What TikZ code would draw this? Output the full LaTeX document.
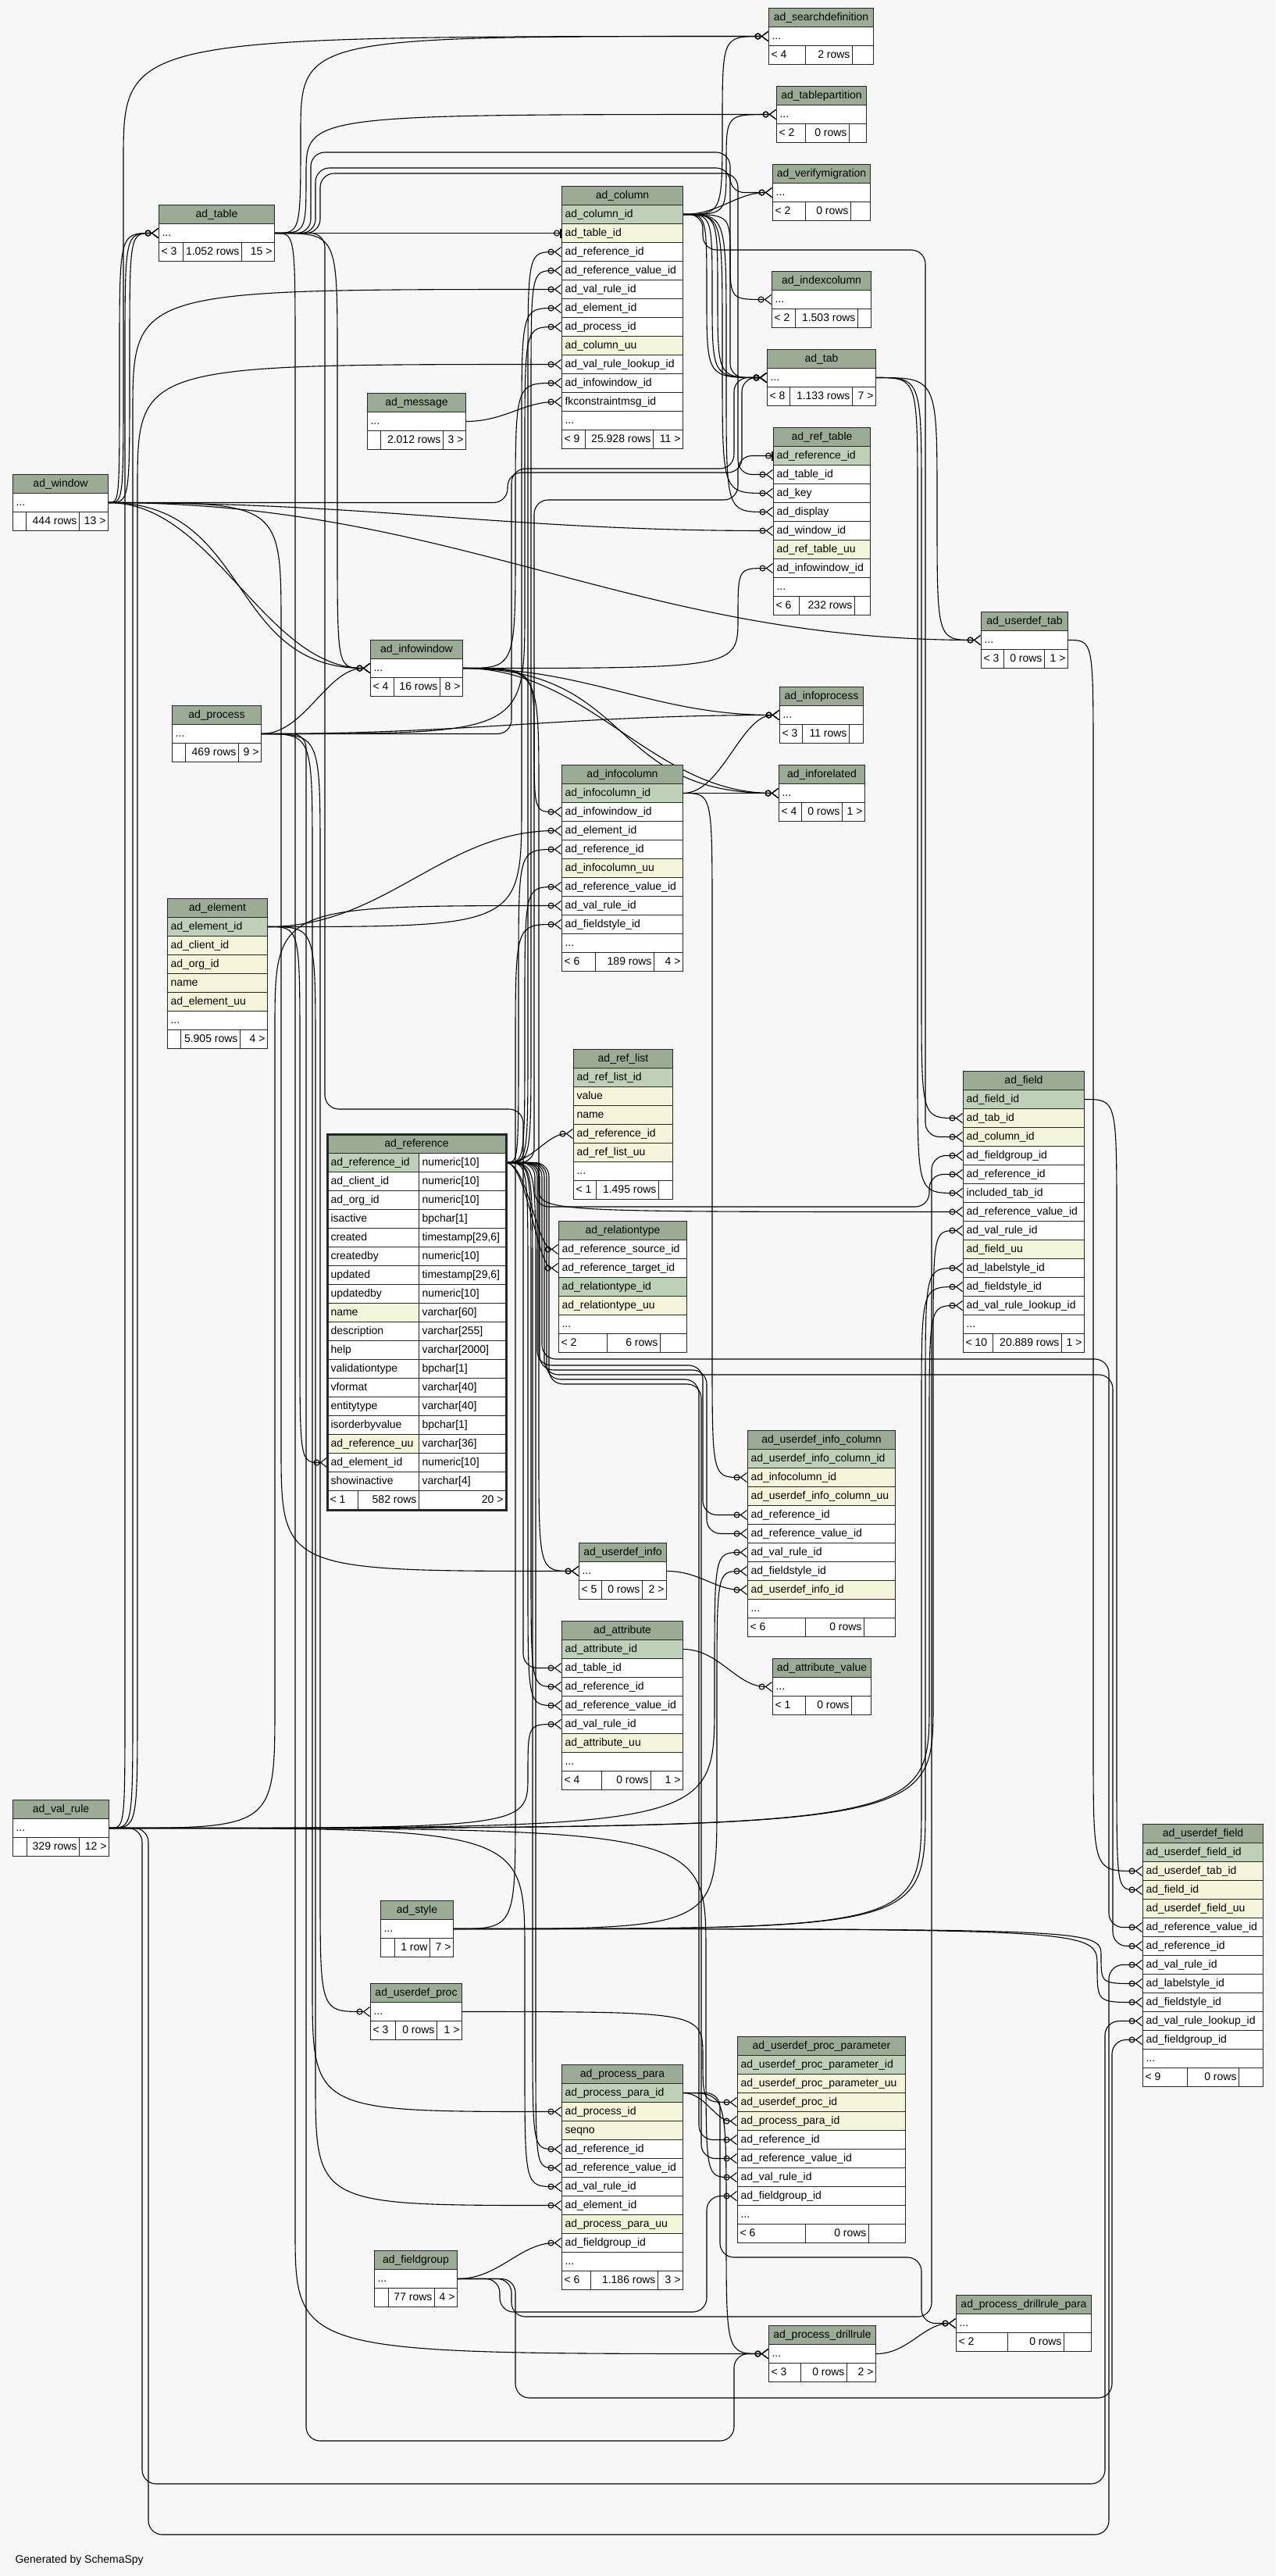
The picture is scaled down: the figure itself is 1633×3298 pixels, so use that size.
\documentclass[tikz,border=0pt]{standalone}
\usepackage{fontspec}
\setmainfont{Liberation Sans}
\usetikzlibrary{arrows.meta,calc,positioning}

\definecolor{paper}{HTML}{F7F7F7}
\definecolor{hd}{HTML}{9BAB96}
\definecolor{pk}{HTML}{BED1B8}
\definecolor{ix}{HTML}{F4F6DC}
\definecolor{rule}{HTML}{262626}

\pgfdeclarelayer{bg}
\pgfdeclarelayer{edges}
\pgfsetlayers{bg,edges,main}

\newcommand{\more}{...}
\newcommand{\erfont}{\fontsize{14pt}{16pt}\selectfont}

\tikzset{
  thead/.style={draw=rule, line width=1pt, fill=hd, anchor=north west,
    minimum height=24pt, inner sep=0pt, text height=10pt, text depth=3pt, font=\erfont},
  tcell/.style={draw=rule, line width=1pt, fill=white, anchor=north west,
    minimum height=24pt, inner xsep=4pt, inner ysep=0pt, text height=10pt, text depth=3pt, font=\erfont},
  fkey/.style={draw=black, line width=1.1pt,
    -{Circle[open,length=8pt,width=8pt] Straight Barb[reversed,length=8pt,width=12pt]}},
  fkone/.style={fkey, -{Circle[open,length=8pt,width=8pt] Bar[width=12pt,line width=2pt]}},
}

% table: name, x, y, width, title, rows (text/fill)
\newcommand{\ertable}[6]{%
  \node[thead, minimum width=#4pt] (#1) at (#2,#3) {#5};
  \foreach \txt/\kind [count=\i] in {#6}
    \node[tcell, fill=\kind] (#1-\i) at (#2,#3+24*\i)
      {\makebox[\dimexpr#4pt-8pt\relax][l]{\txt}};
}
% footer: name, x, y, x1, x2, x3, left, middle, right
\newcommand{\erfoot}[9]{%
  \node[tcell, inner xsep=3pt] (#1-f1) at (#2,#3) {\makebox[\dimexpr#4pt-#2pt-6pt\relax][l]{#7}};
  \node[tcell, inner xsep=3pt] (#1-f2) at (#4,#3) {\makebox[\dimexpr#5pt-#4pt-6pt\relax][r]{#8}};
  \node[tcell, inner xsep=3pt] (#1-f3) at (#5,#3) {\makebox[\dimexpr#6pt-#5pt-6pt\relax][r]{#9}};
}
% connectors: parent, child, channel x
\newcommand{\fkline}[4][fkey]{\draw[#1] let \p1=(#2), \p2=(#3),
  \n1={(\y2>\y1) ? min((\y2-\y1)/2,160) : -min((\y1-\y2)/2,160)} in
  (\p1) .. controls (#4pt,\y1) .. (#4pt,\y1+\n1) -- (#4pt,\y2-\n1)
  .. controls (#4pt,\y2) .. (\p2);}
\newcommand{\fkbend}[6][fkey]{\draw[#1, rounded corners=18pt] (#2) -| (#4,#5) -- (#6,#5) |- (#3);}
\newcommand{\fkcurve}[4][fkey]{\draw[#1] let \p1=(#2), \p2=(#3), \n1={#4*abs(\x2-\x1)} in
  (\p1) .. controls +(\n1,0) and +(-\n1,0) .. (\p2);}

\begin{document}
\catcode`\_=12\relax
\begin{tikzpicture}[x=1pt, y=-1pt]
  \useasboundingbox (0,0) rectangle (1633,3298);
  \begin{pgfonlayer}{bg}
    \fill[paper] (0,0) rectangle (1633,3298);
  \end{pgfonlayer}

  % rank 0
  \ertable{win}{16}{607}{122}{ad_window}{\more/white}
  \erfoot{win}{16}{655}{33}{101}{138}{}{444 rows}{13 >}
  \ertable{vr}{16}{2304}{123}{ad_val_rule}{\more/white}
  \erfoot{vr}{16}{2352}{34}{101}{139}{}{329 rows}{12 >}

  % rank 1
  \ertable{tbl}{203}{262}{148}{ad_table}{\more/white}
  \erfoot{tbl}{203}{310}{234}{309}{351}{< 3}{1.052 rows}{15 >}
  \ertable{msg}{470}{503}{126}{ad_message}{\more/white}
  \erfoot{msg}{470}{551}{487}{567}{596}{}{2.012 rows}{3 >}
  \ertable{iw}{474}{819}{118}{ad_infowindow}{\more/white}
  \erfoot{iw}{474}{867}{504}{563}{592}{< 4}{16 rows}{8 >}
  \ertable{pr}{220}{903}{114}{ad_process}{\more/white}
  \erfoot{pr}{220}{951}{237}{305}{334}{}{469 rows}{9 >}
  \ertable{el}{214}{1150}{128}{ad_element}{ad_element_id/pk, ad_client_id/ix,
    ad_org_id/ix, name/ix, ad_element_uu/ix, \more/white}
  \erfoot{el}{214}{1318}{231}{307}{342}{}{5.905 rows}{4 >}
  \ertable{sty}{487}{2433}{93}{ad_style}{\more/white}
  \erfoot{sty}{487}{2481}{505}{550}{580}{}{1 row}{7 >}
  \ertable{udp}{474}{2539}{117}{ad_userdef_proc}{\more/white}
  \erfoot{udp}{474}{2587}{506}{559}{591}{< 3}{0 rows}{1 >}
  \ertable{fg}{479}{2881}{106}{ad_fieldgroup}{\more/white}
  \erfoot{fg}{479}{2929}{497}{556}{585}{}{77 rows}{4 >}

  % ad_reference, the table in focus
  \node[thead, minimum width=228pt] (ref) at (419,1452) {ad_reference};
  \foreach \cn/\ct/\kind [count=\i] in {ad_reference_id/numeric[10]/pk,
      ad_client_id/numeric[10]/white, ad_org_id/numeric[10]/white,
      isactive/bpchar[1]/white, created/{timestamp[29,6]}/white,
      createdby/numeric[10]/white, updated/{timestamp[29,6]}/white,
      updatedby/numeric[10]/white, name/varchar[60]/ix,
      description/varchar[255]/white, help/varchar[2000]/white,
      validationtype/bpchar[1]/white, vformat/varchar[40]/white,
      entitytype/varchar[40]/white, isorderbyvalue/bpchar[1]/white,
      ad_reference_uu/varchar[36]/ix, ad_element_id/numeric[10]/white,
      showinactive/varchar[4]/white} {
    \node[tcell, fill=\kind] (refn-\i) at (419,1452+24*\i) {\makebox[109pt][l]{\cn}};
    \node[tcell] (ref-\i) at (536,1452+24*\i) {\makebox[103pt][l]{\ct}};
  }
  \erfoot{ref}{419}{1908}{458}{536}{647}{< 1}{582 rows}{20 >}
  \draw[rule, line width=3pt] (ref.north west) rectangle (ref-f3.south east);

  % rank 2
  \ertable{col}{719}{238}{155}{ad_column}{ad_column_id/pk, ad_table_id/ix,
    ad_reference_id/white, ad_reference_value_id/white, ad_val_rule_id/white,
    ad_element_id/white, ad_process_id/white, ad_column_uu/ix,
    ad_val_rule_lookup_id/white, ad_infowindow_id/white,
    fkconstraintmsg_id/white, \more/white}
  \erfoot{col}{719}{550}{749}{836}{874}{< 9}{25.928 rows}{11 >}
  \ertable{ic}{719}{979}{155}{ad_infocolumn}{ad_infocolumn_id/pk,
    ad_infowindow_id/white, ad_element_id/white, ad_reference_id/white,
    ad_infocolumn_uu/ix, ad_reference_value_id/white, ad_val_rule_id/white,
    ad_fieldstyle_id/white, \more/white}
  \erfoot{ic}{719}{1219}{762}{837}{874}{< 6}{189 rows}{4 >}
  \ertable{rl}{734}{1343}{127}{ad_ref_list}{ad_ref_list_id/pk, value/ix,
    name/ix, ad_reference_id/ix, ad_ref_list_uu/ix, \more/white}
  \erfoot{rl}{734}{1511}{763}{843}{861}{< 1}{1.495 rows}{}
  \ertable{rty}{715}{1563}{164}{ad_relationtype}{ad_reference_source_id/white,
    ad_reference_target_id/white, ad_relationtype_id/pk, ad_relationtype_uu/ix,
    \more/white}
  \erfoot{rty}{715}{1707}{777}{845}{879}{< 2}{6 rows}{}
  \ertable{ui}{741}{1975}{112}{ad_userdef_info}{\more/white}
  \erfoot{ui}{741}{2023}{770}{822}{853}{< 5}{0 rows}{2 >}
  \ertable{att}{719}{2075}{155}{ad_attribute}{ad_attribute_id/pk,
    ad_table_id/white, ad_reference_id/white, ad_reference_value_id/white,
    ad_val_rule_id/white, ad_attribute_uu/ix, \more/white}
  \erfoot{att}{719}{2267}{770}{833}{874}{< 4}{0 rows}{1 >}
  \ertable{pp}{719}{2643}{155}{ad_process_para}{ad_process_para_id/pk,
    ad_process_id/ix, seqno/ix, ad_reference_id/white,
    ad_reference_value_id/white, ad_val_rule_id/white, ad_element_id/white,
    ad_process_para_uu/ix, ad_fieldgroup_id/white, \more/white}
  \erfoot{pp}{719}{2907}{756}{842}{874}{< 6}{1.186 rows}{3 >}

  % rank 3
  \ertable{sd}{984}{10}{134}{ad_searchdefinition}{\more/white}
  \erfoot{sd}{984}{58}{1031}{1091}{1118}{< 4}{2 rows}{}
  \ertable{tp}{994}{110}{115}{ad_tablepartition}{\more/white}
  \erfoot{tp}{994}{158}{1031}{1087}{1109}{< 2}{0 rows}{}
  \ertable{vm}{989}{210}{125}{ad_verifymigration}{\more/white}
  \erfoot{vm}{989}{258}{1031}{1089}{1114}{< 2}{0 rows}{}
  \ertable{ixc}{988}{347}{127}{ad_indexcolumn}{\more/white}
  \erfoot{ixc}{988}{395}{1018}{1098}{1115}{< 2}{1.503 rows}{}
  \ertable{tab}{982}{447}{139}{ad_tab}{\more/white}
  \erfoot{tab}{982}{495}{1011}{1091}{1121}{< 8}{1.133 rows}{7 >}
  \ertable{rt}{990}{547}{124}{ad_ref_table}{ad_reference_id/pk,
    ad_table_id/white, ad_key/white, ad_display/white, ad_window_id/white,
    ad_ref_table_uu/ix, ad_infowindow_id/white, \more/white}
  \erfoot{rt}{990}{763}{1023}{1094}{1114}{< 6}{232 rows}{}
  \ertable{ip}{998}{879}{107}{ad_infoprocess}{\more/white}
  \erfoot{ip}{998}{927}{1027}{1087}{1105}{< 3}{11 rows}{}
  \ertable{ir}{997}{979}{110}{ad_inforelated}{\more/white}
  \erfoot{ir}{997}{1027}{1026}{1078}{1107}{< 4}{0 rows}{1 >}
  \ertable{uic}{957}{1831}{189}{ad_userdef_info_column}{ad_userdef_info_column_id/pk,
    ad_infocolumn_id/ix, ad_userdef_info_column_uu/ix, ad_reference_id/white,
    ad_reference_value_id/white, ad_val_rule_id/white, ad_fieldstyle_id/white,
    ad_userdef_info_id/ix, \more/white}
  \erfoot{uic}{957}{2071}{1031}{1106}{1146}{< 6}{0 rows}{}
  \ertable{av}{989}{2123}{126}{ad_attribute_value}{\more/white}
  \erfoot{av}{989}{2171}{1031}{1090}{1115}{< 1}{0 rows}{}
  \ertable{upp}{944}{2607}{215}{ad_userdef_proc_parameter}{ad_userdef_proc_parameter_id/pk,
    ad_userdef_proc_parameter_uu/ix, ad_userdef_proc_id/ix, ad_process_para_id/ix,
    ad_reference_id/white, ad_reference_value_id/white, ad_val_rule_id/white,
    ad_fieldgroup_id/white, \more/white}
  \erfoot{upp}{944}{2847}{1031}{1112}{1159}{< 6}{0 rows}{}
  \ertable{pd}{984}{2977}{137}{ad_process_drillrule}{\more/white}
  \erfoot{pd}{984}{3025}{1025}{1084}{1121}{< 3}{0 rows}{2 >}

  % rank 4 and 5
  \ertable{ut}{1256}{783}{111}{ad_userdef_tab}{\more/white}
  \erfoot{ut}{1256}{831}{1285}{1337}{1367}{< 3}{0 rows}{1 >}
  \ertable{fld}{1233}{1371}{155}{ad_field}{ad_field_id/pk, ad_tab_id/ix,
    ad_column_id/ix, ad_fieldgroup_id/white, ad_reference_id/white,
    included_tab_id/white, ad_reference_value_id/white, ad_val_rule_id/white,
    ad_field_uu/ix, ad_labelstyle_id/white, ad_fieldstyle_id/white,
    ad_val_rule_lookup_id/white, \more/white}
  \erfoot{fld}{1233}{1707}{1271}{1359}{1388}{< 10}{20.889 rows}{1 >}
  \ertable{pdp}{1224}{2938}{173}{ad_process_drillrule_para}{\more/white}
  \erfoot{pdp}{1224}{2986}{1290}{1362}{1397}{< 2}{0 rows}{}
  \ertable{uf}{1463}{2335}{154}{ad_userdef_field}{ad_userdef_field_id/pk,
    ad_userdef_tab_id/ix, ad_field_id/ix, ad_userdef_field_uu/ix,
    ad_reference_value_id/white, ad_reference_id/white, ad_val_rule_id/white,
    ad_labelstyle_id/white, ad_fieldstyle_id/white, ad_val_rule_lookup_id/white,
    ad_fieldgroup_id/white, \more/white}
  \erfoot{uf}{1463}{2647}{1520}{1586}{1617}{< 9}{0 rows}{}

  \node[anchor=west, font=\erfont] (credit) at (16,3278) {Generated by SchemaSpy};

  \begin{pgfonlayer}{edges}
    % ad_table
    \fkcurve[fkone]{tbl-1.east}{col-2.west}{0.4}
    \fkline{tbl-1.east}{sd-1.west}{385}
    \fkline{tbl-1.east}{tp-1.west}{392}
    \fkbend{tbl-1.east}{vm-1.west}{398}{195}{935}
    \fkbend{tbl-1.east}{tab-1.west}{404}{215}{935}
    \fkbend{tbl-1.east}{rt-2.west}{410}{222}{945}
    \fkline{tbl-1.east}{iw-1.west}{432}
    \fkbend{tbl-1.east}{att-2.west}{416}{1420}{670}
    \fkline{tbl-1.east}{pd-1.west}{378}
    % ad_window
    \fkline{win-1.east}{tbl-1.west}{153}
    \fkline{win-1.east}{tbl-1.west}{166}
    \fkline{win-1.east}{sd-1.west}{158}
    \fkbend{win-1.east}{tab-1.west}{650}{605}{950}
    \fkcurve{win-1.east}{rt-5.west}{0.4}
    \fkcurve{win-1.east}{ut-1.west}{0.4}
    \fkcurve{win-1.east}{iw-1.west}{0.4}
    \fkcurve{win-1.east}{iw-1.west}{0.55}
    \fkline{win-1.east}{ui-1.west}{360}
    % ad_process
    \fkline{pr-1.east}{col-7.west}{672}
    \fkcurve{pr-1.east}{ip-1.west}{0.4}
    \fkcurve{pr-1.east}{iw-1.west}{0.4}
    \fkline{pr-1.east}{pp-2.west}{400}
    \fkline{pr-1.east}{udp-1.west}{410}
    \fkbend{pr-1.east}{pd-1.west}{392}{3125}{940}
    \fkbend{pr-1.east}{tab-1.west}{655}{600}{940}
    % ad_message
    \fkcurve{msg-1.east}{col-11.west}{0.4}
    % ad_infowindow
    \fkline{iw-1.east}{col-10.west}{660}
    \fkline{iw-1.east}{rt-7.west}{945}
    \fkline{iw-1.east}{ic-2.west}{684}
    \fkcurve{iw-1.east}{ip-1.west}{0.4}
    \fkcurve{iw-1.east}{ir-1.west}{0.4}
    \fkcurve{iw-1.east}{ir-1.west}{0.55}
    \fkline{iw-1.east}{ui-1.west}{690}
    % ad_element
    \fkline{el-1.east}{col-6.west}{668}
    \fkcurve{el-1.east}{ic-3.west}{0.4}
    \fkline{el-1.east}{refn-17.west}{384}
    \fkline{el-1.east}{pp-7.west}{404}
    % ad_reference
    \fkline{ref-1.east}{col-3.west}{676}
    \fkline{ref-1.east}{col-4.west}{680}
    \fkbend[fkone]{ref-1.east}{rt-1.west}{684}{640}{945}
    \fkline{ref-1.east}{ic-4.west}{664}
    \fkline{ref-1.east}{ic-6.west}{672}
    \fkcurve{ref-1.east}{rl-4.west}{0.4}
    \fkcurve{ref-1.east}{rty-1.west}{0.4}
    \fkcurve{ref-1.east}{rty-2.west}{0.4}
    \fkbend{ref-1.east}{fld-5.west}{685}{1545}{1190}
    \fkline{ref-1.east}{fld-7.west}{690}
    \fkbend{ref-1.east}{uic-4.west}{688}{1748}{900}
    \fkbend{ref-1.east}{uic-5.west}{691}{1754}{905}
    \fkline{ref-1.east}{att-3.west}{680}
    \fkline{ref-1.east}{att-4.west}{676}
    \fkbend{ref-1.east}{uf-5.west}{694}{1740}{1420}
    \fkbend{ref-1.east}{uf-6.west}{697}{1760}{1425}
    \fkline{ref-1.east}{pp-4.west}{682}
    \fkline{ref-1.east}{pp-5.west}{686}
    \fkbend{ref-1.east}{upp-5.west}{700}{1766}{895}
    \fkbend{ref-1.east}{upp-6.west}{703}{1772}{898}
    % ad_val_rule
    \fkline{vr-1.east}{col-5.west}{170}
    \fkline{vr-1.east}{col-9.west}{176}
    \fkline{vr-1.east}{tbl-1.west}{160}
    \fkline{vr-1.east}{ic-7.west}{352}
    \fkline{vr-1.east}{fld-8.west}{1195}
    \fkline{vr-1.east}{fld-12.west}{1190}
    \fkline{vr-1.east}{uic-6.west}{915}
    \fkline{vr-1.east}{att-5.west}{676}
    \fkbend{vr-1.east}{uf-7.west}{190}{3245}{1420}
    \fkbend{vr-1.east}{uf-10.west}{182}{3180}{1415}
    \fkline{vr-1.east}{pp-6.west}{672}
    \fkline{vr-1.east}{upp-7.west}{904}
    % ad_style
    \fkline{sty-1.east}{ic-8.west}{660}
    \fkline{sty-1.east}{fld-10.west}{1185}
    \fkline{sty-1.east}{fld-11.west}{1180}
    \fkline{sty-1.east}{uic-7.west}{918}
    \fkline{sty-1.east}{uf-8.west}{1410}
    \fkline{sty-1.east}{uf-9.west}{1405}
    % the rest
    \fkline{udp-1.east}{upp-3.west}{900}
    \fkcurve{pp-1.east}{upp-4.west}{0.4}
    \fkline{pp-1.east}{pd-1.west}{930}
    \fkbend{pp-1.east}{pdp-1.west}{922}{2890}{1180}
    \fkcurve{fg-1.east}{pp-9.west}{0.4}
    \fkbend{fg-1.east}{upp-8.west}{640}{2960}{905}
    \fkbend{fg-1.east}{fld-4.west}{655}{2966}{1193}
    \fkbend{fg-1.east}{uf-11.west}{660}{3070}{1424}
    \fkline{tab-1.east}{fld-2.west}{1180}
    \fkline{tab-1.east}{fld-6.west}{1175}
    \fkline{tab-1.east}{ut-1.west}{1200}
    \fkline{ic-1.east}{uic-2.west}{912}
    \fkcurve{ic-1.east}{ir-1.west}{0.4}
    \fkcurve{ic-1.east}{ip-1.west}{0.4}
    \fkline{fld-1.east}{uf-3.west}{1430}
    \fkline{ut-1.east}{uf-2.west}{1400}
    \fkcurve{ui-1.east}{uic-8.west}{0.4}
    \fkcurve{att-1.east}{av-1.west}{0.4}
    \fkcurve{pd-1.east}{pdp-1.west}{0.4}
    % ad_column
    \fkline{col-1.east}{sd-1.west}{925}
    \fkline{col-1.east}{tp-1.west}{930}
    \fkcurve{col-1.east}{vm-1.west}{0.4}
    \fkline{col-1.east}{ixc-1.west}{935}
    \fkline{col-1.east}{tab-1.west}{905}
    \fkline{col-1.east}{tab-1.west}{912}
    \fkline{col-1.east}{tab-1.west}{919}
    \fkline{col-1.east}{rt-3.west}{925}
    \fkline{col-1.east}{rt-4.west}{930}
    \fkbend{col-1.east}{fld-3.west}{900}{320}{1185}
  \end{pgfonlayer}
\end{tikzpicture}
\end{document}
